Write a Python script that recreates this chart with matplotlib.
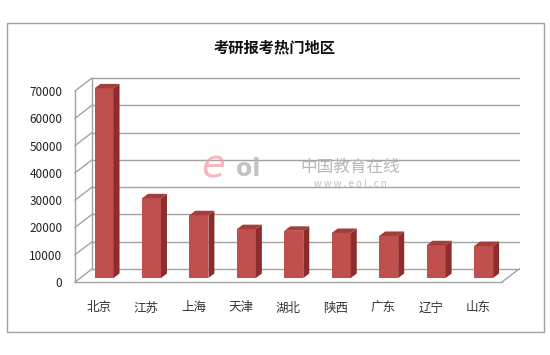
import matplotlib
matplotlib.use("Agg")
import matplotlib.pyplot as plt
from matplotlib.patches import Polygon, Rectangle
import numpy as np

plt.rcParams['font.family'] = ['Noto Sans CJK SC', 'DejaVu Sans']

# ---- data ----
categories = ['北京', '江苏', '上海', '天津', '湖北', '陕西', '广东', '辽宁', '山东']
values = [69500, 29200, 23000, 17900, 17300, 16500, 15400, 12000, 11700]
yticks = [0, 10000, 20000, 30000, 40000, 50000, 60000, 70000]
title = '考研报考热门地区'

W, H = 550, 355
fig = plt.figure(figsize=(W / 100, H / 100), dpi=100)
fig.patch.set_facecolor('white')

# outer frame
fig.add_artist(Rectangle((7 / W, 1 - 332 / H), (544 - 7) / W, (332 - 23) / H,
                         transform=fig.transFigure, fill=False,
                         edgecolor='#a0a0a0', lw=1.0))

# axes in front plane
L, R, B, T = 75, 502, 282, 91
ax = fig.add_axes([L / W, 1 - B / H, (R - L) / W, (B - T) / H])
n = len(categories)
x = np.arange(n)
ax.set_xlim(-0.5, n - 0.5)
ax.set_ylim(0, 70000)
for s in ax.spines.values():
    s.set_visible(False)
ax.patch.set_visible(False)

ppx = (n) / (R - L)           # data units per pixel, x
ppy = 70000 / (B - T)         # data units per pixel, y

# depth of the chart (back wall offset)
DX, DY = 17 * ppx, 13 * ppy
grid_c = '#a3a3a3'
x0, x1 = -0.5, n - 0.5
for yv in yticks:
    ax.plot([x0 + DX, x1 + DX], [yv + DY, yv + DY], color=grid_c, lw=1.0,
            clip_on=False, zorder=1)
    ax.plot([x0, x0 + DX], [yv, yv + DY], color=grid_c, lw=1.0,
            clip_on=False, zorder=1)
# left wall vertical edges
ax.plot([x0 + DX, x0 + DX], [DY, 70000 + DY], color=grid_c, lw=1.0,
        clip_on=False, zorder=1)
ax.plot([x0, x0], [0, 70000], color=grid_c, lw=1.0, clip_on=False, zorder=1)
# floor front and right edge
ax.plot([x0, x1], [0, 0], color=grid_c, lw=1.0, clip_on=False, zorder=1)
ax.plot([x1, x1 + DX], [0, DY], color=grid_c, lw=1.0, clip_on=False, zorder=1)

# bars (3D look)
sx, sy = 5.3 * ppx, 4 * ppy
bw = 19 * ppx
bdx, bdy = 6 * ppx, 4.5 * ppy
front_c = '#c0504d'
side_c = '#8c2d2b'
top_c = '#a33e3b'
bars = ax.bar(x + sx, values, width=bw, bottom=sy, color=front_c, zorder=3,
              edgecolor='none')
for b in bars:
    b.set_clip_on(False)
for xi, v in zip(x, values):
    xl = xi + sx - bw / 2
    xr = xi + sx + bw / 2
    top = sy + v
    ax.add_patch(Polygon([(xr, sy), (xr + bdx, sy + bdy), (xr + bdx, top + bdy),
                          (xr, top)], closed=True, facecolor=side_c,
                         edgecolor='none', zorder=3, clip_on=False))
    ax.add_patch(Polygon([(xl, top), (xr, top), (xr + bdx, top + bdy),
                          (xl + bdx, top + bdy)], closed=True, facecolor=top_c,
                         edgecolor='none', zorder=3, clip_on=False))

ax.set_xticks(x)
ax.set_xticklabels(categories, fontsize=9, color='#333333')
ax.set_yticks(yticks)
ax.set_yticklabels([str(v) for v in yticks], fontsize=8.5, color='#222222')
ax.tick_params(axis='x', length=0, pad=14)
ax.tick_params(axis='y', length=0, pad=9)

fig.text(275 / W, 1 - 47 / H, title, ha='center', va='center',
         fontsize=11, fontweight='bold', color='#111111')

# watermark
fig.text(213 / W, 1 - 166 / H, 'e', ha='center', va='center', fontsize=28,
         color='#f2a0a8', alpha=0.75, family='DejaVu Sans', style='italic')
fig.text(248 / W, 1 - 169 / H, 'ol', ha='center', va='center', fontsize=17,
         fontweight='bold', color='#b5b5b5', alpha=0.8, family='DejaVu Sans')
fig.text(350 / W, 1 - 167 / H, '中国教育在线', ha='center', va='center',
         fontsize=12, color='#b8b8b8')
fig.text(350 / W, 1 - 184 / H, 'w w w . e o l . c n', ha='center', va='center',
         fontsize=7, color='#c0c0c0')

fig.savefig('out.png', dpi=100, facecolor='white')
